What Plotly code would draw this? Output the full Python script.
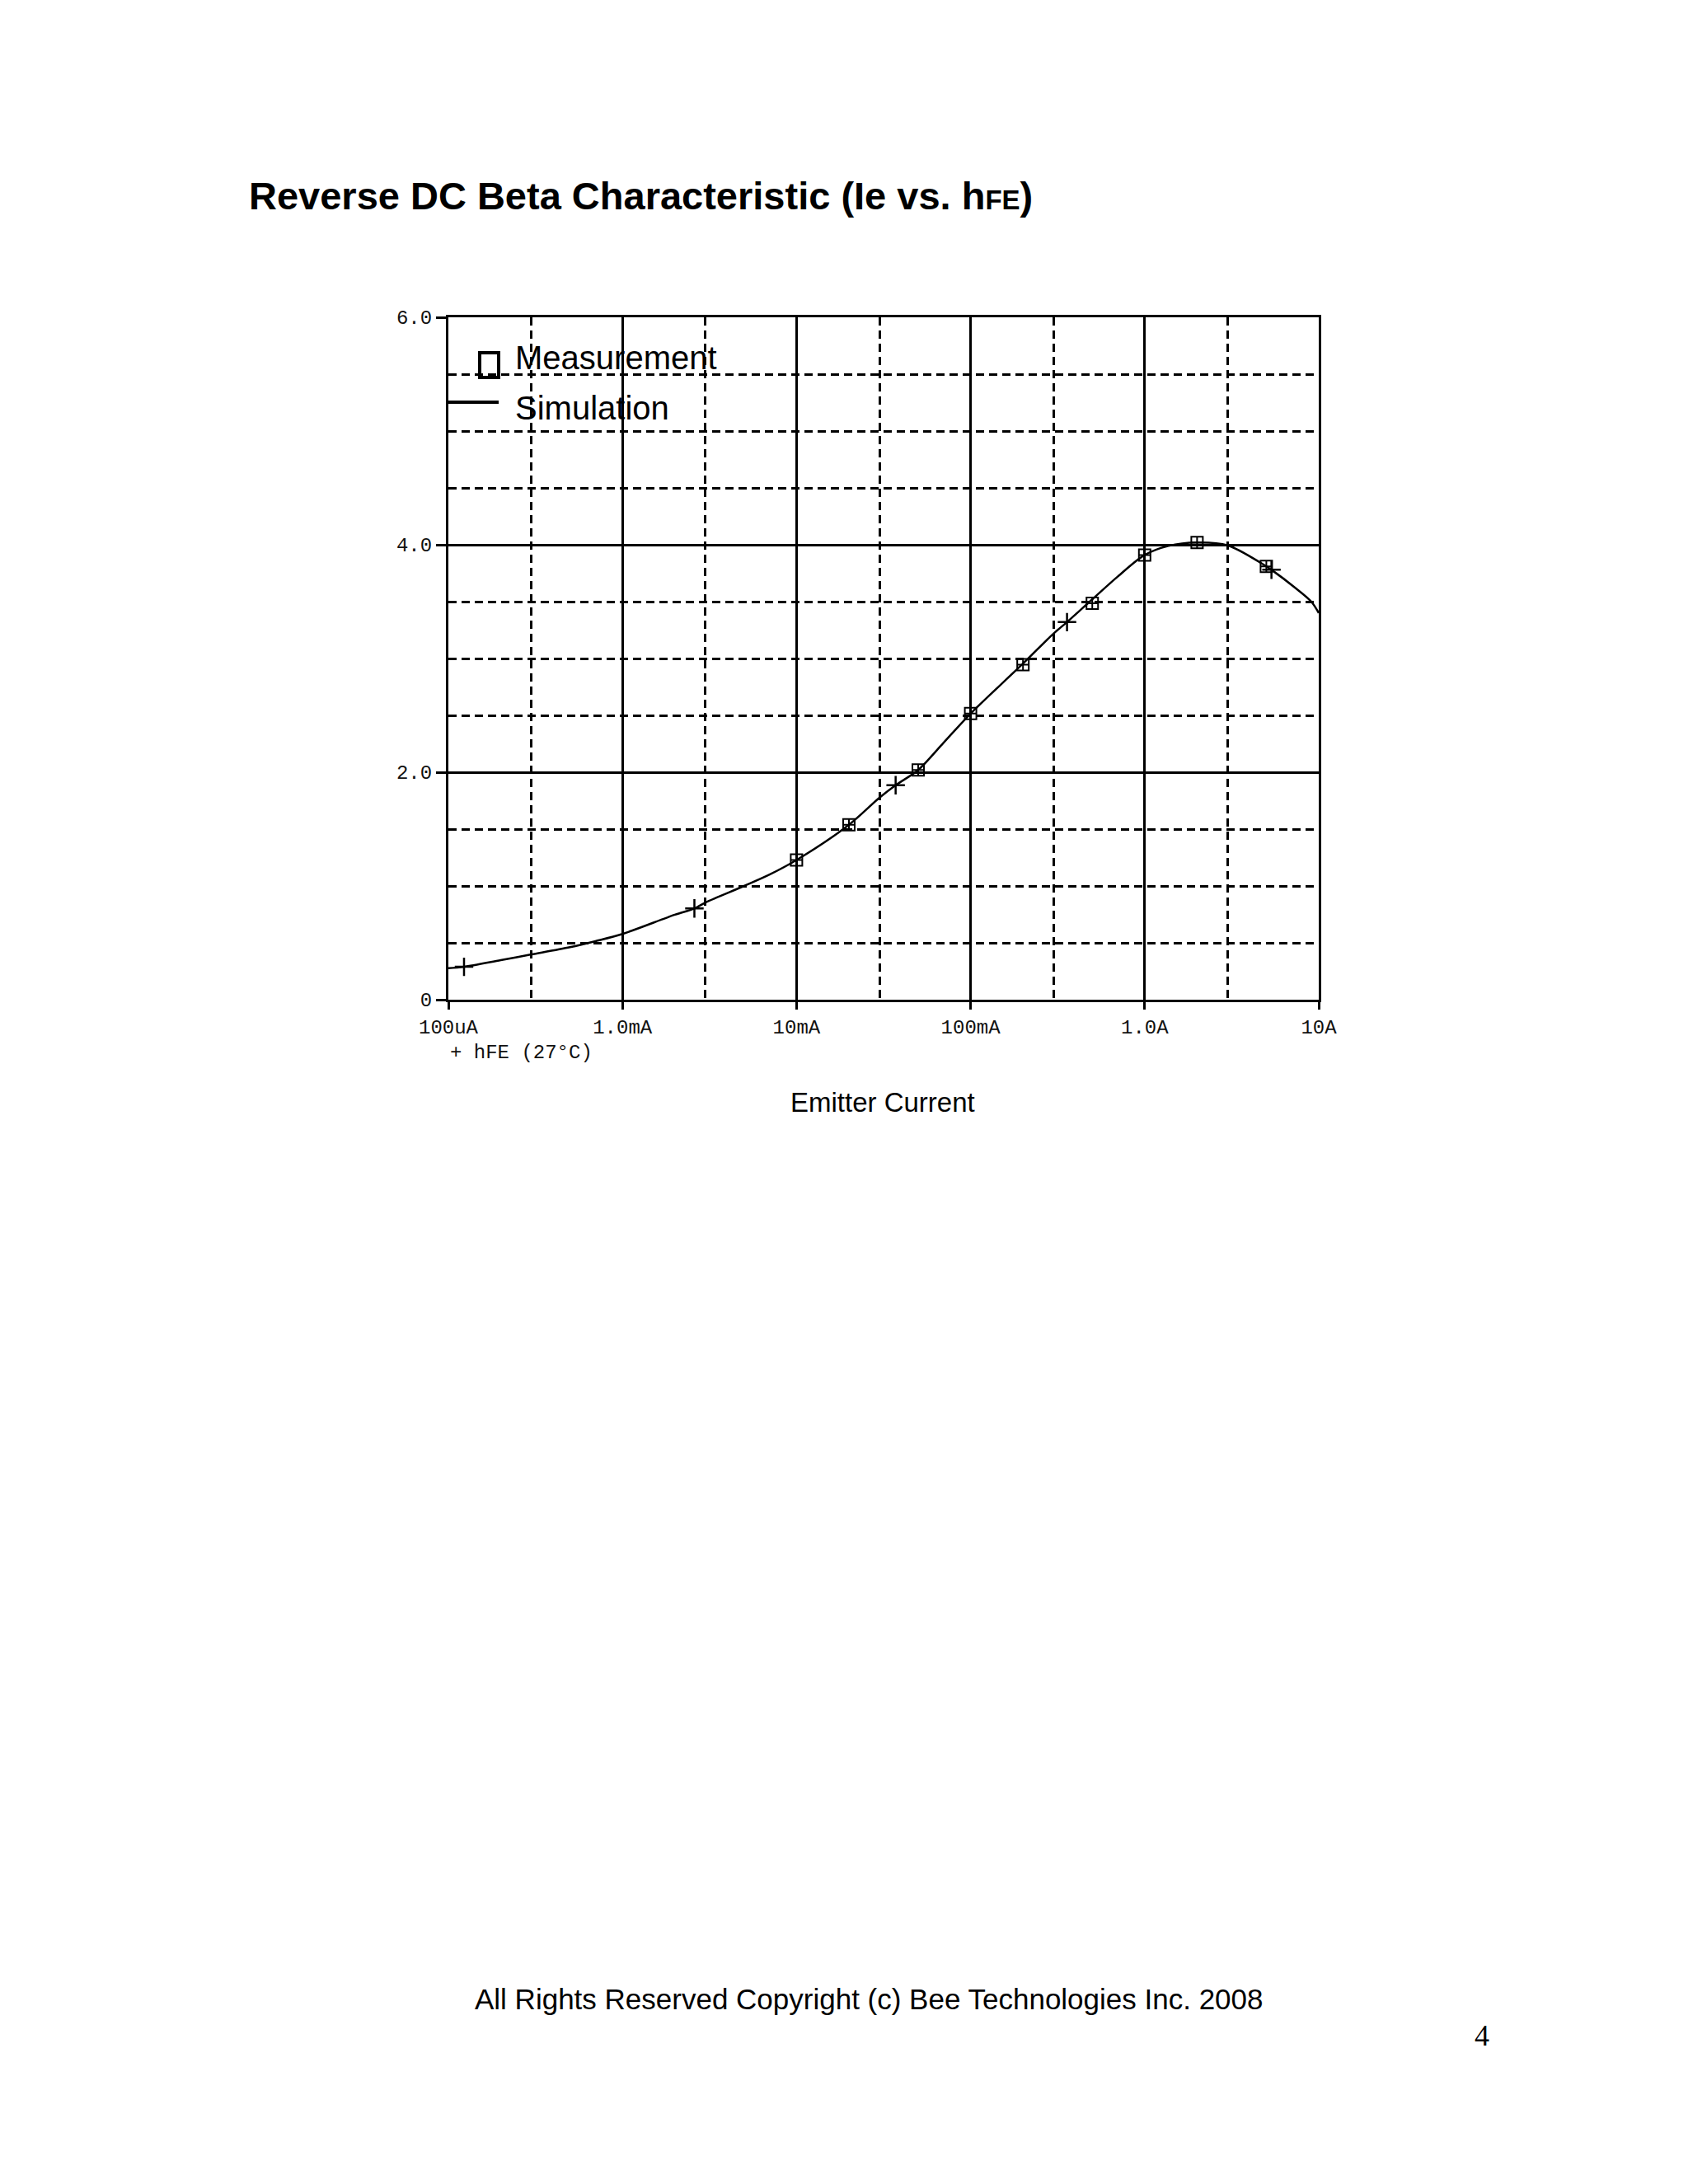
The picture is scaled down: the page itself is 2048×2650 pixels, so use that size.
import plotly.graph_objects as go

# ---------------- data ----------------
sim_current = [1e-4, 1.23e-4, 2e-4, 3e-4, 5e-4, 7e-4, 1e-3, 2e-3, 2.59e-3, 3e-3,
               5e-3, 7e-3, 1e-2, 2e-2, 3e-2, 3.71e-2, 5e-2, 7e-2, 0.1, 0.2, 0.3,
               0.358, 0.5, 0.7, 1.0, 1.37, 2.0, 3.0, 5.0, 5.35, 7.35, 9.06, 10.0]
sim_hfe = [0.277, 0.289, 0.348, 0.398, 0.462, 0.515, 0.578, 0.747, 0.802, 0.855,
           1.0, 1.10, 1.228, 1.538, 1.777, 1.886, 2.02, 2.26, 2.516, 2.955, 3.22,
           3.32, 3.52, 3.72, 3.91, 3.99, 4.02, 3.995, 3.81, 3.78, 3.62, 3.50, 3.40]

sim_marker_current = [1.23e-4, 2.59e-3, 3.71e-2, 0.358, 5.35]
sim_marker_hfe = [0.289, 0.802, 1.886, 3.32, 3.78]

meas_current = [0.01, 0.02, 0.05, 0.1, 0.2, 0.5, 1.0, 2.0, 5.0]
meas_hfe = [1.228, 1.538, 2.02, 2.516, 2.945, 3.486, 3.91, 4.02, 3.81]

x_tickvals = [1e-4, 1e-3, 1e-2, 1e-1, 1.0, 10.0]
x_ticktext = ["100uA", "1.0mA", "10mA", "100mA", "1.0A", "10A"]
x_minorvals = [3e-4, 3e-3, 3e-2, 3e-1, 3.0]
y_tickvals = [0, 2, 4, 6]
y_ticktext = ["0", "2.0", "4.0", "6.0"]
y_minorvals = [0.5, 1.0, 1.5, 2.5, 3.0, 3.5, 4.5, 5.0, 5.5]

# ---------------- geometry (page coords, body margin compensated) ----------------
OFF = 8
W, H = 2048 - 2 * OFF, 2650 - 2 * OFF
L, R, T, B = 544 - OFF, 1600 - OFF, 385 - OFF, 1213 - OFF
pw, ph = R - L, B - T


def px(x):
    return (x - OFF - L) / pw


def py(y):
    return (B - (y - OFF)) / ph


mono = "Liberation Mono"
sans = "Liberation Sans"

fig = go.Figure()
fig.add_trace(go.Scatter(
    x=sim_current, y=sim_hfe, mode="lines",
    line=dict(color="black", width=2.5, shape="spline", smoothing=0.9),
    showlegend=False, hoverinfo="skip"))
fig.add_trace(go.Scatter(
    x=sim_marker_current, y=sim_marker_hfe, mode="markers",
    marker=dict(symbol="cross-thin-open", size=16, color="black",
                line=dict(color="black", width=2.5)),
    showlegend=False, hoverinfo="skip"))
fig.add_trace(go.Scatter(
    x=meas_current, y=meas_hfe, mode="markers",
    marker=dict(symbol="square-cross-open", size=14, color="black",
                line=dict(color="black", width=2)),
    showlegend=False, hoverinfo="skip"))

DASH = "10px,6px"

fig.update_xaxes(
    type="log", range=[-4, 1],
    tickmode="array", tickvals=x_tickvals, ticktext=x_ticktext,
    ticks="outside", ticklen=9, tickwidth=2.5, tickcolor="black",
    showgrid=True, gridcolor="black", gridwidth=2.5,
    minor=dict(tickmode="array", tickvals=x_minorvals, ticks="",
               showgrid=True, gridcolor="black", gridwidth=2.5, griddash=DASH),
    showline=True, linecolor="black", linewidth=3, mirror=True,
    zeroline=False,
    tickfont=dict(family=mono, size=24, color="#111"),
)
fig.update_yaxes(
    range=[0, 6],
    tickmode="array", tickvals=y_tickvals, ticktext=y_ticktext,
    ticks="outside", ticklen=12, tickwidth=2.5, tickcolor="black",
    showgrid=True, gridcolor="black", gridwidth=2.5,
    minor=dict(tickmode="array", tickvals=y_minorvals, ticks="",
               showgrid=True, gridcolor="black", gridwidth=2.5, griddash=DASH),
    showline=True, linecolor="black", linewidth=3, mirror=True,
    zeroline=False,
    tickfont=dict(family=mono, size=24, color="#111"),
)

shapes = [
    # legend: measurement square
    dict(type="rect", xref="paper", yref="paper",
         x0=px(582), x1=px(605), y0=py(458), y1=py(428),
         line=dict(color="black", width=4), fillcolor="rgba(0,0,0,0)"),
    # legend: simulation line
    dict(type="line", xref="paper", yref="paper",
         x0=px(544), x1=px(605), y0=py(488), y1=py(488),
         line=dict(color="black", width=4)),
]

annotations = [
    dict(text="Measurement", xref="paper", yref="paper", x=px(623), y=py(434),
         xanchor="left", yanchor="middle", showarrow=False,
         font=dict(family=sans, size=40, color="black")),
    dict(text="Simulation", xref="paper", yref="paper", x=px(623), y=py(495),
         xanchor="left", yanchor="middle", showarrow=False,
         font=dict(family=sans, size=40, color="black")),
    dict(text="+ hFE (27°C)", xref="paper", yref="paper", x=px(544), y=py(1277),
         xanchor="left", yanchor="middle", showarrow=False,
         font=dict(family=mono, size=24, color="#111")),
    dict(text="Emitter Current", xref="paper", yref="paper", x=px(1071), y=py(1337),
         xanchor="center", yanchor="middle", showarrow=False,
         font=dict(family=sans, size=33, color="black")),
    dict(text="All Rights Reserved Copyright (c) Bee Technologies Inc. 2008",
         xref="paper", yref="paper", x=px(1054), y=py(2425),
         xanchor="center", yanchor="middle", showarrow=False,
         font=dict(family=sans, size=35, color="black")),
    dict(text="4", xref="paper", yref="paper", x=px(1798), y=py(2470),
         xanchor="center", yanchor="middle", showarrow=False,
         font=dict(family="Liberation Serif", size=36, color="black")),
]

fig.update_layout(
    width=W, height=H,
    margin=dict(l=L, r=W - R, t=T, b=H - B, pad=0),
    paper_bgcolor="white", plot_bgcolor="white",
    title=dict(
        text="<b>Reverse DC Beta Characteristic (Ie vs. h<span style='font-size:33px'>FE</span>)</b>",
        xref="container", yref="container",
        x=(302 - OFF) / W, xanchor="left", y=1 - (238 - OFF) / H, yanchor="middle",
        font=dict(family=sans, size=47, color="black")),
    shapes=shapes, annotations=annotations,
    showlegend=False,
)

fig.write_html("out.html")
